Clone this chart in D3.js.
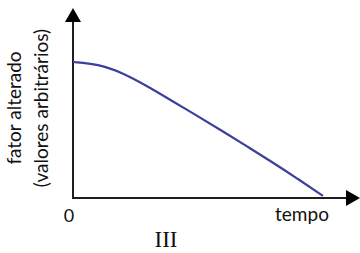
<!DOCTYPE html>
<html>
<head>
<meta charset="utf-8">
<script src="https://cdn.jsdelivr.net/npm/d3@7"></script>
<style>
html,body{margin:0;padding:0;background:#fff;}
svg{display:block;}
</style>
</head>
<body>
<svg id="chart" width="360" height="253"></svg>
<script>
// Data (arbitrary units)
const tempo = [0, 1, 2, 3, 4, 5, 6, 7, 8, 9, 10];
const fatorAlterado = [10, 9.85, 9.2, 8.2, 7.1, 6.0, 4.9, 3.75, 2.6, 1.4, 0.15];
const xTickLabels = ["0"];
const xAxisTitle = "tempo";
const yAxisTitle = ["fator alterado", "(valores arbitrários)"];
const panelLabel = "III";

const svg = d3.select("#chart");
const x = d3.scaleLinear().domain([0, 10]).range([73, 323]);
const y = d3.scaleLinear().domain([0, 10]).range([198, 62]);

const axisColor = "#1e1e1e";
const sans = "Lato, 'Open Sans', sans-serif";

// axes
svg.append("line").attr("x1", x(0)).attr("x2", x(0)).attr("y1", y(0) + 1).attr("y2", 20)
  .attr("stroke", axisColor).attr("stroke-width", 2);
svg.append("path").attr("d", `M${x(0)},8 L${x(0) - 8},22 L${x(0) + 8},22 Z`).attr("fill", "#000");
svg.append("line").attr("x1", x(0) - 1).attr("x2", 348).attr("y1", y(0)).attr("y2", y(0))
  .attr("stroke", axisColor).attr("stroke-width", 2);
svg.append("path").attr("d", `M360,${y(0)} L346,${y(0) - 8} L346,${y(0) + 8} Z`).attr("fill", "#000");

// curve
const line = d3.line().x((d, i) => x(tempo[i])).y(d => y(d)).curve(d3.curveBasis);
svg.append("path").datum(fatorAlterado).attr("d", line)
  .attr("fill", "none").attr("stroke", "#3c3f9c").attr("stroke-width", 2.2);

// tick label 0
svg.append("text").text(xTickLabels[0]).attr("x", x(0) - 4).attr("y", 222)
  .attr("text-anchor", "middle").attr("font-family", sans).attr("font-size", 18).attr("fill", "#111");

// x title
svg.append("text").text(xAxisTitle).attr("x", 302).attr("y", 221)
  .attr("text-anchor", "middle").attr("font-family", sans).attr("font-size", 19).attr("fill", "#111");

// y title (rotated, two lines)
const yt = svg.append("text").attr("transform", "translate(0,108) rotate(-90)")
  .attr("text-anchor", "middle").attr("font-family", sans).attr("font-size", 19).attr("fill", "#111");
yt.append("tspan").attr("x", 0).attr("y", 21).text(yAxisTitle[0]);
yt.append("tspan").attr("x", 0).attr("y", 48).text(yAxisTitle[1]);

// panel label
svg.append("text").text(panelLabel).attr("x", 166).attr("y", 247)
  .attr("text-anchor", "middle").attr("font-family", "'Liberation Serif', 'DejaVu Serif', serif")
  .attr("font-size", 23).attr("fill", "#111");
</script>
</body>
</html>
